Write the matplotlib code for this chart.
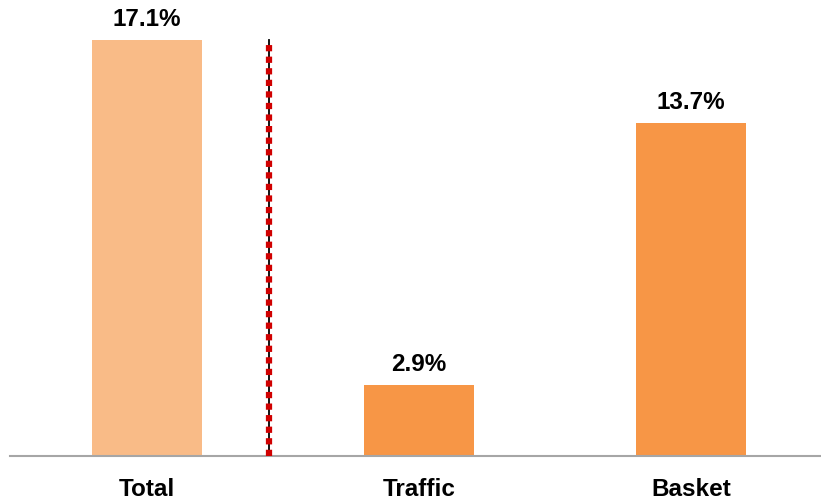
import matplotlib
matplotlib.use("Agg")
import matplotlib.pyplot as plt

categorias = ["Total", "Traffic", "Basket"]
valores = [17.1, 2.9, 13.7]
rotulos = ["17.1%", "2.9%", "13.7%"]
cores = ["#F9BB87", "#F79646", "#F79646"]

plt.rcParams["font.family"] = ["Liberation Sans", "DejaVu Sans"]

fig = plt.figure(figsize=(8.21, 5), dpi=100)
ax = fig.add_axes([10 / 821, 44 / 500, 811 / 821, 456 / 500])

x = range(len(categorias))
bars = ax.bar(x, valores, width=0.404, color=cores)
ax.bar_label(bars, labels=rotulos, padding=6.5, fontsize=17.5, fontweight="bold")

# linha separadora entre Total e os componentes
ax.plot([0.45, 0.45], [0, valores[0]], color="black", lw=1.3, zorder=3)
ax.plot([0.45, 0.45], [0, valores[0]], color="#D00000", lw=4.5,
        linestyle=(0, (1.0, 0.85)), zorder=4)

ax.set_xlim(-0.504, 2.478)
ax.set_ylim(0, 18.74)
ax.set_xticks(list(x))
ax.set_xticklabels(categorias, fontsize=17.5, fontweight="bold")
ax.tick_params(axis="x", length=0, pad=16)
ax.set_yticks([])
for lado in ["top", "right", "left"]:
    ax.spines[lado].set_visible(False)
ax.spines["bottom"].set_color("#A6A6A6")
ax.spines["bottom"].set_linewidth(1.5)

fig.savefig("out.png", dpi=100)
